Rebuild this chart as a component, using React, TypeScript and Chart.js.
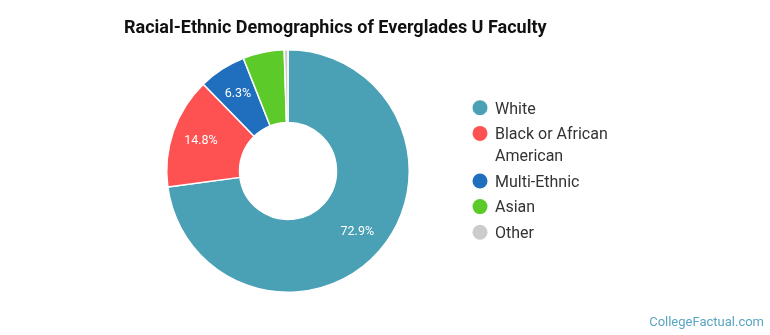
import React, { useEffect, useRef } from 'react';
import { Chart, registerables } from 'chart.js';

Chart.register(...registerables);

const TITLE = 'Racial-Ethnic Demographics of Everglades U Faculty';
const WATERMARK = 'CollegeFactual.com';
const categories = ['White', 'Black or African American', 'Multi-Ethnic', 'Asian', 'Other'];
const legendLines = [['White'], ['Black or African', 'American'], ['Multi-Ethnic'], ['Asian'], ['Other']];
const values = [72.9, 14.8, 6.3, 5.5, 0.5];
const colors = ['#4aa0b4', '#fd5152', '#1f6fbe', '#5ccb2a', '#cccccc'];
const LABEL_MIN = 6;

const overlayPlugin = {
  id: 'overlay',
  afterDraw(chart: any) {
    const ctx: CanvasRenderingContext2D = chart.ctx;
    ctx.save();

    // Title
    ctx.font = 'bold 18px Roboto';
    ctx.fillStyle = '#111111';
    ctx.textAlign = 'left';
    ctx.textBaseline = 'alphabetic';
    ctx.fillText(TITLE, 124, 33);

    // Slice labels
    const meta = chart.getDatasetMeta(0);
    ctx.font = '12.5px Roboto';
    ctx.fillStyle = '#ffffff';
    ctx.textAlign = 'center';
    ctx.textBaseline = 'middle';
    meta.data.forEach((arc: any, i: number) => {
      const v = values[i];
      if (v < LABEL_MIN) return;
      const p = arc.getProps(['x', 'y', 'startAngle', 'endAngle', 'innerRadius', 'outerRadius'], true);
      const mid = (p.startAngle + p.endAngle) / 2;
      const r = p.innerRadius + 0.6 * (p.outerRadius - p.innerRadius);
      ctx.fillText(v.toFixed(1) + '%', p.x + Math.cos(mid) * r, p.y + Math.sin(mid) * r);
    });

    // Legend
    let y = 107.8;
    ctx.textAlign = 'left';
    ctx.textBaseline = 'alphabetic';
    ctx.font = '16px Roboto';
    legendLines.forEach((lines, i) => {
      ctx.fillStyle = colors[i];
      ctx.beginPath();
      ctx.arc(480, y, 7.5, 0, Math.PI * 2);
      ctx.fill();
      ctx.fillStyle = '#333333';
      lines.forEach((line, j) => {
        ctx.fillText(line, 495, y + 5.7 + j * 22);
      });
      y += 25.6 + (lines.length - 1) * 22;
    });

    // Watermark
    ctx.font = '13px Roboto';
    ctx.fillStyle = '#5aa5c0';
    ctx.textAlign = 'right';
    ctx.fillText(WATERMARK, 764, 326);

    ctx.restore();
  },
};

export default function App() {
  const canvasRef = useRef<HTMLCanvasElement | null>(null);

  useEffect(() => {
    if (!canvasRef.current) return;
    const chart = new Chart(canvasRef.current, {
      type: 'doughnut',
      data: {
        labels: categories,
        datasets: [
          {
            data: values,
            backgroundColor: colors,
            borderColor: '#ffffff',
            borderWidth: 1.5,
          },
        ],
      },
      options: {
        responsive: false,
        animation: false,
        devicePixelRatio: 1,
        cutout: '40%',
        layout: { padding: { left: 165, right: 359, top: 49, bottom: 42 } },
        plugins: {
          legend: { display: false },
          title: { display: false },
          tooltip: { enabled: false },
        },
      },
      plugins: [overlayPlugin],
    });
    return () => chart.destroy();
  }, []);

  return (
    <div style={{ position: 'absolute', left: 0, top: 0, width: 770, height: 335, background: '#ffffff' }}>
      <canvas ref={canvasRef} width={770} height={335} style={{ display: 'block' }} />
    </div>
  );
}
